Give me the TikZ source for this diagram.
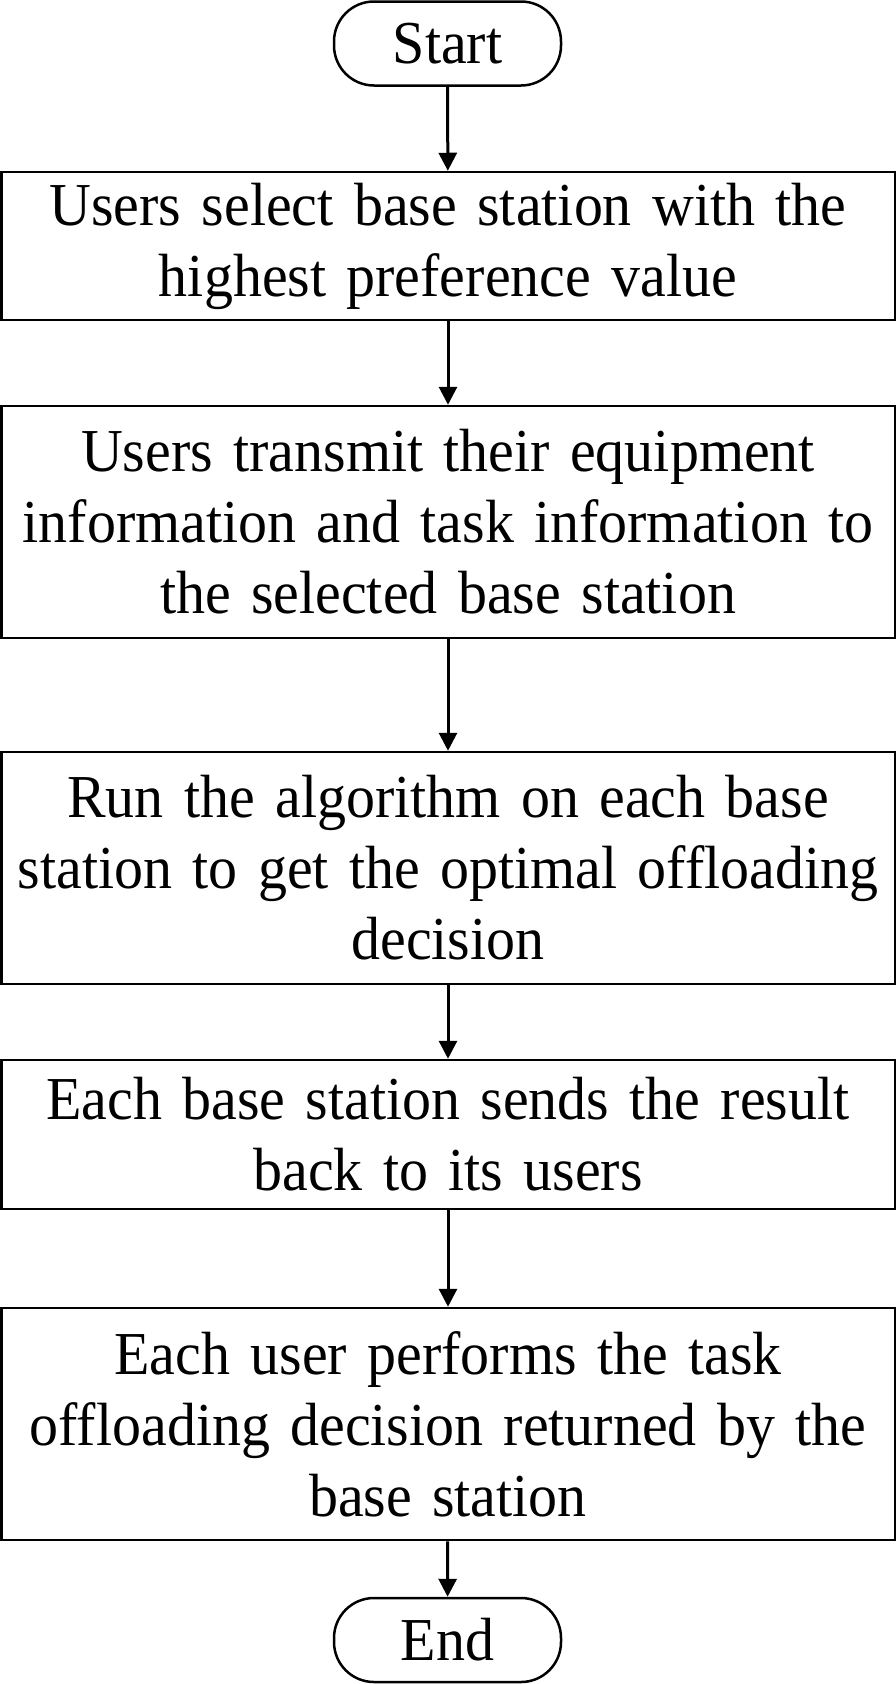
\documentclass[tikz,border=0pt]{standalone}
\usepackage{fontspec}
\setmainfont{Liberation Serif}[FakeStretch=0.95,WordSpace=1.1]
\usepackage{tikz}
\usetikzlibrary{shapes,arrows.meta}

\begin{document}
\begin{tikzpicture}[x=1pt,y=-1pt]
			\tikzset{every node/.style={font=\fontsize{61}{71}\selectfont}}
			\tikzset{procbox/.style={draw,line width=2.5pt,minimum width=893.5pt,text width=880pt,align=center,inner sep=0pt}}
			\tikzset{termbox/.style={draw,line width=2.5pt,rounded corners=40pt,minimum width=227pt,minimum height=84pt,inner sep=0pt}}
			\tikzset{flow/.style={line width=3pt,-{Triangle[length=18pt,width=18pt]}}}
			%\tikzset{flow/.style={line width=3pt,-{Latex[length=18pt,width=18pt]}}}
			\useasboundingbox (0,0) rectangle (896,1684);
			\node[termbox] (start) at (447.5,43.5) {Start};
			\node[procbox,minimum height=148pt] (select) at (448,246) {Users select base station with the\\highest preference value};
			\node[procbox,minimum height=232pt] (transmit) at (448,522) {Users transmit their equipment\\information and task information to\\the selected base station};
			\node[procbox,minimum height=232pt] (run) at (448,868) {Run the algorithm on each base\\station to get the optimal offloading\\decision};
			\node[procbox,minimum height=149pt] (sendback) at (448,1134.5) {Each base station sends the result\\back to its users};
			\node[procbox,minimum height=232pt] (perform) at (448,1424) {Each user performs the task\\offloading decision returned by the\\base station};
			\node[termbox] (end) at (447.5,1640) {End};
			\draw[flow] (start) -- (select);
			\draw[flow] (select) -- (transmit);
			\draw[flow] (transmit) -- (run);
			\draw[flow] (run) -- (sendback);
			\draw[flow] (sendback) -- (perform);
			\draw[flow] (perform) -- (end);
\end{tikzpicture}
\end{document}
